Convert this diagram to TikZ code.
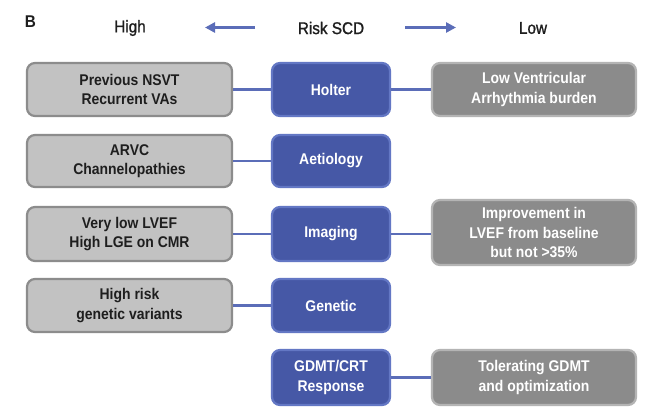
\documentclass[tikz,border=0pt]{standalone}
\usepackage{fontspec}
\setmainfont{Liberation Sans}[FakeStretch=0.9]
\newfontfamily\headfont{Liberation Sans}[FakeStretch=0.9,FakeBold=1.2]
\usetikzlibrary{arrows.meta}
\definecolor{bluefill}{HTML}{4658A6}
\definecolor{blueedge}{HTML}{6377C4}
\definecolor{lgfill}{HTML}{C2C2C2}
\definecolor{lgedge}{HTML}{8C8C8C}
\definecolor{dgfill}{HTML}{8B8B8B}
\definecolor{dgedge}{HTML}{B4B4B4}
\definecolor{txt}{HTML}{1E1E1E}
\definecolor{linkblue}{HTML}{5B6DB8}
\tikzset{
  box/.style={rounded corners=8pt, line width=2.2pt, align=center, font=\bfseries\fontsize{15.5}{19.5}\selectfont, inner sep=0pt},
  hibox/.style={box, draw=lgedge, fill=lgfill, text=txt, minimum width=205pt},
  midbox/.style={box, draw=blueedge, fill=bluefill, text=white, minimum width=118pt},
  lobox/.style={box, draw=dgedge, fill=dgfill, text=white, minimum width=204pt},
  link/.style={linkblue, line width=2.2pt},
  head/.style={font=\headfont\fontsize{17}{20}\selectfont, text=txt},
  harrow/.style={linkblue, line width=2.5pt, -{Triangle[length=10pt,width=10pt]}}
}
\begin{document}
\begin{tikzpicture}[x=1pt,y=-1pt]
\useasboundingbox[fill=white] (0,0) rectangle (653,414);
\node[font=\bfseries\fontsize{17}{20}\selectfont, text=txt] (B) at (30.5,22) {B};
\node[head] (high) at (130,28) {High};
\node[head] (risk) at (331,28) {Risk SCD};
\node[head] (low) at (533,28) {Low};
\coordinate (la0) at (255,27.5); \coordinate (la1) at (205,27.5);
\coordinate (ra0) at (405,27.5); \coordinate (ra1) at (456,27.5);
\draw[harrow] (la0) -- (la1);
\draw[harrow] (ra0) -- (ra1);

% rows
\node[hibox, minimum height=53pt] (h1) at (129.5,89.5) {Previous NSVT\\Recurrent VAs};
\node[midbox, minimum height=53pt] (m1) at (331,89.5) {Holter};
\node[lobox, minimum height=53pt] (l1) at (534,89.5) {Low Ventricular\\Arrhythmia burden};

\node[hibox, minimum height=52pt] (h2) at (129.5,161) {ARVC\\Channelopathies};
\node[midbox, minimum height=52pt] (m2) at (331,161) {Aetiology};

\node[hibox, minimum height=54pt] (h3) at (129.5,234) {Very low LVEF\\High LGE on CMR};
\node[midbox, minimum height=54pt] (m3) at (331,234) {Imaging};
\node[lobox, minimum height=65pt] (l3) at (534,232.5) {Improvement in\\LVEF from baseline\\but not >35\%};

\node[hibox, minimum height=53pt] (h4) at (129.5,305.5) {High risk\\genetic variants};
\node[midbox, minimum height=53pt] (m4) at (331,305.5) {Genetic};

\node[midbox, minimum height=55pt] (m5) at (331,377.5) {GDMT/CRT\\Response};
\node[lobox, minimum height=55pt] (l5) at (534,377.5) {Tolerating GDMT\\and optimization};

\draw[link] (h1.east) -- (m1.west);
\draw[link] (m1.east) -- (l1.west);
\draw[link] (h2.east) -- (m2.west);
\draw[link] (h3.east) -- (m3.west);
\draw[link] (m3.east) -- (l3.west |- m3.east);
\draw[link] (h4.east) -- (m4.west);
\draw[link] (m5.east) -- (l5.west);
\end{tikzpicture}
\end{document}
